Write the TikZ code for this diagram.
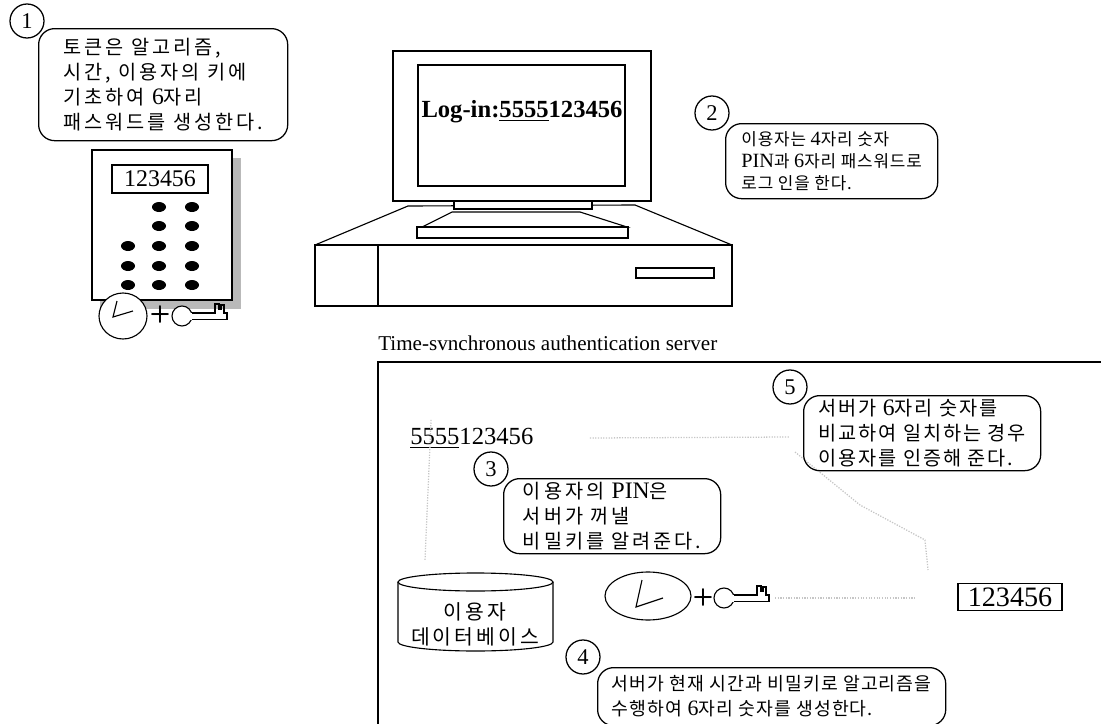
\documentclass[tikz,border=0pt]{standalone}
\usepackage{fontspec}
\setmainfont{Liberation Serif}
\newfontfamily\hangul{Noto Sans CJK KR}
\newcommand\lat[1]{{\rmfamily\addfontfeature{Scale=1.2}#1}}
\newcommand\kfont[2]{\hangul\fontsize{#1}{17.8}\selectfont\addfontfeature{LetterSpace=#2}}
\usetikzlibrary{positioning}

\tikzset{
	outline/.style={line width=0.8pt},
	callout/.style={draw, line width=0.9pt, rounded corners=0.4cm, anchor=north west, align=left, inner sep=0pt, font={\kfont{14}{15}}},
	stepnum/.style={draw, circle, line width=0.9pt, fill=white, minimum size=0.85cm, inner sep=0pt, font=\fontsize{16}{16}\selectfont},
	faded/.style={gray!45, densely dotted, line width=0.9pt},
	numbox/.style={draw, line width=0.8pt, inner sep=1pt},
	plussign/.style={inner sep=0pt, font=\sffamily\bfseries\fontsize{17}{17}\selectfont},
	tkey/.pic={
		\draw[outline, fill=white] (0,0) circle[radius=10];
		\fill[white] (8,-3) rectangle (45,3.5);
		\draw[outline] (9.5,-3) -- (33,-3) -- (33,-12) -- (37,-12) -- (37,-7) -- (39,-7) -- (39,-11) -- (42,-11) -- (42,-3) -- (45,-3) -- (45,3.5) -- (9.5,3.5);
	}
}

\begin{document}
\begin{tikzpicture}[x=0.025cm, y=-0.025cm]
	\useasboundingbox (0,0) rectangle (1101,724);

	% token with keypad
	\fill[gray!55] (100,158) rectangle (241,309);
	\draw[outline, fill=white] (92,150) rectangle (232,300);
	\node[numbox, minimum width=2.4cm, minimum height=0.7cm, font=\fontsize{17}{17}\selectfont] (disp) at (160,179) {123456};
	\foreach \y in {207,226,246,266,285} {
		\fill (159,\y) ellipse[x radius=7, y radius=5];
		\fill (192,\y) ellipse[x radius=7, y radius=5];
	}
	\foreach \y in {246,266,285}
		\fill (128,\y) ellipse[x radius=7, y radius=5];
	\draw[outline, fill=white] (123,316) ellipse[x radius=24, y radius=23];
	\draw[outline] (117,301) -- (113,317) -- (133,311);
	\node[plussign] (plus1) at (160,315) {+};
	\pic at (182,316) {tkey};

	\node[callout, minimum width=6.225cm, minimum height=2.8cm] (note1) at (38,28)
		{토큰은 알고리즘,\\시간, 이용자의 키에\\기초하여 \lat{6}자리\\패스워드를 생성한다.};
	\node[stepnum] (n1) at ([shift={(-11,-7)}]note1.north west) {1};

	% computer
	\draw[outline] (315,245) -- (408,206) -- (635,205) -- (732,245);
	\draw[outline, fill=white] (315,245) rectangle (732,306);
	\draw[outline] (378,245) -- (378,306);
	\draw[outline] (636,268) rectangle (714,278);
	\draw[outline, fill=white] (452,212) -- (580,212) -- (627,227) -- (422,227) -- cycle;
	\draw[outline, fill=white] (417,227) rectangle (628,238);
	\draw[outline, fill=white] (454,199) rectangle (592,209);
	\draw[outline, fill=white] (393,51) rectangle (651,201);
	\draw[outline] (418,65) rectangle (625,186);
	\node[font=\bfseries\fontsize{17.5}{17.5}\selectfont] (login) at (522,112) {Log-in:\underline{5555}123456};

	\node[callout, minimum width=5.3cm, minimum height=1.875cm, font={\hangul\fontsize{12}{15.6}\selectfont\addfontfeature{LetterSpace=5}}] (note2) at (725,123)
		{이용자는 \lat{4}자리 숫자\\\lat{PIN}과 \lat{6}자리 패스워드로\\로그 인을 한다.};
	\node[stepnum] (n2) at ([shift={(-13,-10)}]note2.north west) {2};

	% authentication server
	\node[anchor=base west, inner sep=0pt, font=\fontsize{15}{15}\selectfont] (title) at (378,350) {Time-svnchronous authentication server};
	\draw[line width=1.1pt] (378,724) -- (378,362) -- (1101,362);

	\node[anchor=west, inner sep=0pt, font=\fontsize{17.5}{17.5}\selectfont] (pin) at (410,438) {\underline{5555}123456};

	% faded flow marks
	\coordinate (f1) at (790,437);
	\coordinate (f2) at (795,452);
	\coordinate (f3) at (928,570);
	\draw[faded] ([xshift=40]pin.east) -- (f1);
	\draw[faded] (f2) -- (860,505) -- (925,540) -- (f3);
	\draw[faded] ([xshift=15, yshift=20]pin.south west) -- (425,560);

	\node[callout, minimum width=5.925cm, minimum height=1.875cm, font={\kfont{14}{10}}] (note5) at (803,395)
		{서버가 \lat{6}자리 숫자를\\비교하여 일치하는 경우\\이용자를 인증해 준다.};
	\node[stepnum] (n5) at ([shift={(-13,-8)}]note5.north west) {5};

	\node[callout, minimum width=5.425cm, minimum height=1.875cm] (note3) at (503,478)
		{이용자의 \lat{PIN}은\\서버가 꺼낼\\비밀키를 알려준다.};
	\node[stepnum] (n3) at ([shift={(-12,-9)}]note3.north west) {3};

	% user database
	\draw[outline, fill=white] (398,582) -- (398,642) arc[start angle=180, end angle=0, x radius=77.5, y radius=9] -- (553,582);
	\draw[outline] (475.5,582) ellipse[x radius=77.5, y radius=9];
	\node[align=center, font={\kfont{14.5}{15}}] (db) at (475,624) {이용자\\데이터베이스};

	% clock and secret key
	\draw[outline, fill=white] (648,596) ellipse[x radius=43, y radius=24];
	\draw[outline] (642,580) -- (636,607) -- (663,598);
	\node[plussign] (plus2) at (703,598) {+};
	\pic at (724,598) {tkey};
	\draw[faded] (775,598) -- (915,598);

	\node[numbox, minimum width=2.6cm, minimum height=0.675cm, font=\fontsize{20}{20}\selectfont] (code) at (1010,597) {123456};

	\node[callout, minimum width=8.7cm, minimum height=1.45cm, font={\kfont{13}{6}}] (note4) at (597,667)
		{서버가 현재 시간과 비밀키로 알고리즘을\\수행하여 \lat{6}자리 숫자를 생성한다.};
	\node[stepnum] (n4) at ([shift={(-14,-10)}]note4.north west) {4};
\end{tikzpicture}
\end{document}
